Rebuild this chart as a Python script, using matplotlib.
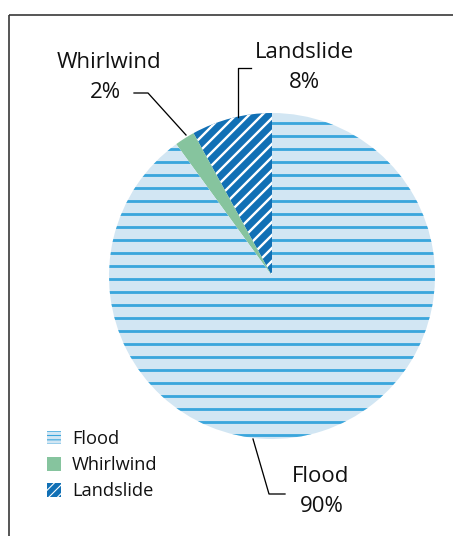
import matplotlib
matplotlib.use("Agg")
import matplotlib.pyplot as plt
from matplotlib.patches import Patch

categories = ["Landslide", "Whirlwind", "Flood"]
values = [8, 2, 90]
legend_order = ["Flood", "Whirlwind", "Landslide"]

DPI = 78
W, H = 453, 536
plt.rcParams['font.family'] = ['Open Sans', 'DejaVu Sans']

fig = plt.figure(figsize=(W / DPI, H / DPI), dpi=DPI)
ax = fig.add_axes([0, 0, 1, 1])

def Y(y):
    return H - y

face = {"Flood": "#D2E6F3", "Whirlwind": "#86C49E", "Landslide": "#1170B5"}
hatch = {"Flood": "-", "Whirlwind": None, "Landslide": "//"}
hcol = {"Flood": "#3AA6DC", "Whirlwind": "#86C49E", "Landslide": "white"}
hlw = {"Flood": 2.6, "Whirlwind": 1.0, "Landslide": 2.2}

cx, cy, r = 272, Y(276), 163
wedges, _ = ax.pie(values, startangle=90, counterclock=True, center=(cx, cy),
                   radius=r, frame=True)
ax.set_xlim(0, W)
ax.set_ylim(0, H)
ax.set_aspect('equal')
ax.axis('off')
for w, c in zip(wedges, categories):
    w.set_facecolor(face[c])
    w.set_edgecolor(hcol[c])
    w.set_linewidth(0)
    if hatch[c]:
        w.set_hatch(hatch[c])
        if hasattr(w, "set_hatch_linewidth"):
            w.set_hatch_linewidth(hlw[c])

# frame lines
ax.plot([9, W], [Y(15), Y(15)], color="#333333", lw=1.5, solid_capstyle='butt')
ax.plot([9, 9], [Y(15), 0], color="#333333", lw=1.5, solid_capstyle='butt')

# labels
fs = 20.5
tc = "#111111"
ax.text(109, Y(63), "Whirlwind", ha='center', va='center', fontsize=fs, color=tc)
ax.text(105, Y(93), "2%", ha='center', va='center', fontsize=fs, color=tc)
ax.plot([134, 148, 186], [Y(93), Y(93), Y(135)], color="black", lw=1.2)

ax.text(304, Y(53), "Landslide", ha='center', va='center', fontsize=fs, color=tc)
ax.text(304, Y(83), "8%", ha='center', va='center', fontsize=fs, color=tc)
ax.plot([251, 238, 238], [Y(68), Y(68), Y(117)], color="black", lw=1.2)

ax.text(321, Y(477), "Flood", ha='center', va='center', fontsize=fs, color=tc)
ax.text(322, Y(506), "90%", ha='center', va='center', fontsize=fs, color=tc)
ax.plot([253, 269, 285], [Y(439), Y(494), Y(494)], color="black", lw=1.2)

# legend
handles = []
for c in legend_order:
    hh = {"Flood": "---", "Whirlwind": None, "Landslide": "///"}[c]
    p = Patch(facecolor=face[c], edgecolor=hcol[c], linewidth=0, hatch=hh, label=c)
    if hasattr(p, "set_hatch_linewidth"):
        p.set_hatch_linewidth(1.6)
    handles.append(p)
lfs = 16.8
leg = ax.legend(handles=handles, loc='upper left', bbox_to_anchor=(47 / W, 1 - 430 / H),
                frameon=False, fontsize=lfs, handlelength=0.77, handleheight=0.77,
                handletextpad=0.6, labelspacing=0.45, borderaxespad=0, borderpad=0)
for t in leg.get_texts():
    t.set_color(tc)

fig.savefig("out.png", dpi=DPI)
